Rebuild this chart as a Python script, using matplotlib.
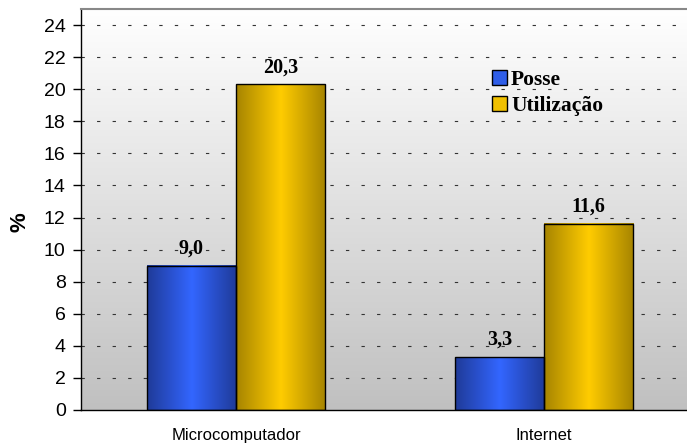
import numpy as np
import matplotlib
matplotlib.use("Agg")
import matplotlib.pyplot as plt
from matplotlib.colors import LinearSegmentedColormap
from matplotlib.patches import Rectangle

categories = ["Microcomputador", "Internet"]
series_names = ["Posse", "Utilização"]
posse = [9.0, 3.3]
utilizacao = [20.3, 11.6]
yticks = list(range(0, 25, 2))

W, H = 687, 446
fig = plt.figure(figsize=(W / 100, H / 100), dpi=100)
ax = fig.add_axes([81 / W, 36 / H, (W - 81) / W, (410 - 9) / H])

ax.set_ylim(0, 25)
ax.set_xlim(-0.503, 1.464)

# background gradient
bg = LinearSegmentedColormap.from_list("bg", ["#c0c0c0", "#ffffff"])
grad = np.linspace(0, 1, 256).reshape(-1, 1)
ax.imshow(grad, cmap=bg, aspect="auto", extent=[-0.503, 1.464, 0, 25],
          origin="lower", zorder=0)

# grid
for yv in yticks[1:]:
    ax.axhline(yv, color="#333333", lw=0.8, dashes=(3, 11), zorder=1)

blue_cm = LinearSegmentedColormap.from_list("b", ["#1f3a98", "#3366ff", "#1f3a98"])
gold_cm = LinearSegmentedColormap.from_list("g", ["#a68400", "#ffcc00", "#a68400"])
hgrad = np.linspace(0, 1, 256).reshape(1, -1)

bw = 0.289
x = np.arange(len(categories))
for xi, vals, cm, off in [(x, posse, blue_cm, -bw / 2), (x, utilizacao, gold_cm, bw / 2)]:
    for xc, v in zip(xi, vals):
        l = xc + off - bw / 2
        ax.imshow(hgrad, cmap=cm, aspect="auto", extent=[l, l + bw, 0, v], zorder=2)
        ax.add_patch(Rectangle((l, 0), bw, v, fill=False, ec="black", lw=1.0, zorder=3))
        ax.text(xc + off, v + 0.45, f"{v:.1f}".replace(".", ","), ha="center", va="bottom",
                fontsize=14.5, fontweight="bold", family="Liberation Serif", zorder=4)

ax.set_xlim(-0.503, 1.464)
ax.set_ylim(0, 25)
ax.set_yticks(yticks)
ax.set_yticklabels([str(t) for t in yticks], family="Liberation Sans", fontsize=14)
ax.set_xticks(x)
ax.set_xticklabels(categories, family="Liberation Sans", fontsize=12)
ax.tick_params(axis="x", length=0, pad=13)
ax.tick_params(axis="y", length=6, width=1, pad=5)
fig.text(20 / W, 1 - 222 / H, "%", rotation=90, ha="center", va="center",
         family="Liberation Sans", fontsize=16, fontweight="bold")

for s in ["right"]:
    ax.spines[s].set_visible(False)
ax.spines["top"].set_color("#888888")
ax.spines["top"].set_linewidth(1.5)
ax.spines["left"].set_linewidth(1.0)
ax.spines["bottom"].set_linewidth(1.0)

handles = [Rectangle((0, 0), 1, 1, fc="#2f5ee8", ec="black", lw=1),
           Rectangle((0, 0), 1, 1, fc="#f0c000", ec="black", lw=1)]
leg = ax.legend(handles, series_names, loc="upper left", bbox_to_anchor=(0.66, 0.875),
                frameon=False, prop={"family": "Liberation Serif", "weight": "bold", "size": 15.5},
                handlelength=0.7, handleheight=0.7, handletextpad=0.2, labelspacing=0.3,
                borderpad=0)

fig.savefig("out.png", dpi=100)
